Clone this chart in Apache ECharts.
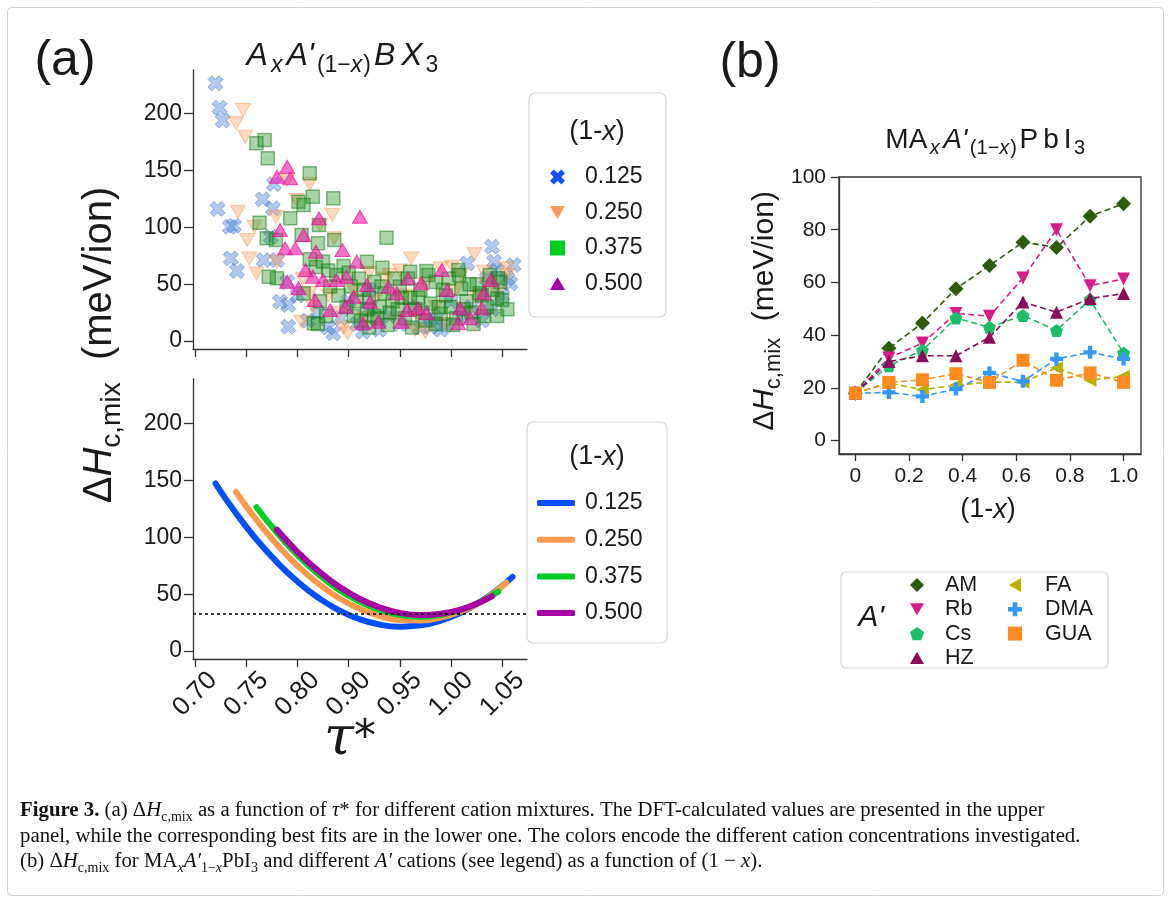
<!DOCTYPE html>
<html><head><meta charset="utf-8">
<script src="https://cdn.jsdelivr.net/npm/echarts@6/dist/echarts.min.js"></script>
<style>html,body{margin:0;padding:0;background:#fff}#c{width:1171px;height:903px}</style>
</head><body><div id="c"></div>
<script>
// ---------- DATA ----------
const tauTickValues = [0.70, 0.75, 0.80, 0.85, 0.90, 0.95, 1.00];
const tauTickLabels = ['0.70', '0.75', '0.80', '0.90', '0.95', '1.00', '1.05'];
const enthalpyTicks = [0, 50, 100, 150, 200];
const concentrations = ['0.125', '0.250', '0.375', '0.500'];

// upper panel: DFT values [tau*, dH]
const dft0125 = [[0.720,226.6],[0.724,205.2],[0.727,193.8],[0.722,116.1],[0.734,100.5],[0.738,101.4],[0.735,72.7],[0.741,61.6],
  [0.777,138.1],[0.766,124.6],[0.776,116.7],[0.774,91.7],[0.767,71.2],[0.780,71.2],[0.783,34.6],[0.791,31.7],[0.791,12.6],
  [0.835,6.8],[0.990,83.0],[0.992,69.8],[1.011,66.8],[1.008,50.7],[0.966,68.3],[0.930,12.6],[0.864,8.2],
  [0.800,40],[0.810,18],[0.820,25],[0.830,12],[0.842,20],[0.850,35],[0.858,15],[0.870,28],[0.880,10],[0.890,22],[0.900,15],
  [0.910,30],[0.920,12],[0.935,20],[0.945,14],[0.950,35],[0.960,22],[0.970,30],[0.980,18],[0.990,28],[1.000,40],[1.005,55],
  [0.995,62],[0.985,55],[0.940,10],[0.870,45],[0.790,52]];
const dft0250 = [[0.747,203.2],[0.740,191.5],[0.749,179.7],[0.742,113.7],[0.758,100.5],[0.751,88.8],[0.753,72.7],[0.760,59.5],
  [0.779,109.3],[0.790,141.6],[0.812,138.1],[0.834,110.8],[0.836,90.3],[0.780,69.8],[0.799,124.0],[0.822,102.0],[0.911,72.7],
  [0.951,65.3],[0.973,76.3],[0.982,61.0],[1.004,64.0],[0.849,6.8],[0.804,17.0],[0.812,42.0],[0.890,58.0],
  [0.805,55],[0.815,30],[0.830,40],[0.840,25],[0.855,45],[0.865,20],[0.875,35],[0.885,55],[0.895,18],[0.905,40],[0.915,25],
  [0.925,50],[0.935,30],[0.945,15],[0.955,45],[0.965,25],[0.975,38],[0.985,50],[0.995,42],[1.005,58],[0.960,58],[0.900,62],
  [0.940,64],[0.870,60],[0.845,12],[0.915,10],[0.925,8]];
const dft0375 = [[0.760,173.9],[0.768,176.8],[0.771,160.7],[0.812,147.5],[0.801,122.5],[0.806,119.6],[0.815,126.9],[0.835,125.5],
  [0.793,107.9],[0.763,104.1],[0.770,90.3],[0.779,88.8],[0.804,93.2],[0.821,102.0],[0.820,85.9],[0.836,88.8],[0.887,90.9],
  [0.772,56.6],[0.780,55.1],[0.868,69.8],[0.883,64.5],[0.910,61.0],[0.926,61.6],[0.957,62.4],[0.806,42.0],[0.816,15.6],
  [0.996,55.1],[0.995,37.5],
  [0.812,72],[0.818,65],[0.825,70],[0.830,62],[0.838,58],[0.845,66],[0.850,60],[0.852,48],[0.860,55],[0.865,45],[0.870,38],
  [0.875,52],[0.880,30],[0.885,42],[0.890,25],[0.893,35],[0.900,48],[0.905,20],[0.910,38],[0.915,28],[0.920,45],[0.925,18],
  [0.930,33],[0.935,52],[0.940,24],[0.945,40],[0.950,30],[0.955,20],[0.960,46],[0.965,35],[0.970,25],[0.975,50],[0.980,40],
  [0.985,30],[0.990,45],[0.995,22],[1.000,36],[1.005,28],[0.840,40],[0.848,30],[0.855,22],[0.862,18],[0.868,28],[0.878,20],
  [0.888,14],[0.898,28],[0.908,55],[0.918,38],[0.928,58],[0.938,30],[0.948,55],[0.958,58],[0.968,50],[0.978,42],[0.988,58],
  [0.998,52],[0.822,35],[0.832,48],[0.828,22],[0.820,15],[0.870,12],[0.912,12],[0.952,14],[0.972,15],
  [0.858,35],[0.882,48],[0.902,38],[0.922,25],[0.942,45],[0.962,28],[0.982,22],[0.895,55],[0.935,15],[0.875,22]];
const dft0500 = [[0.790,153.3],[0.780,144.5],[0.793,143.1],[0.861,109.3],[0.821,107.9],[0.783,97.6],[0.806,93.2],[0.788,81.5],
  [0.798,81.5],[0.818,78.5],[0.844,80.0],[0.858,69.8],[0.808,62.4],[0.815,56.6],[0.790,52.2],[0.801,46.4],[0.817,36.1],
  [0.832,27.3],[0.847,30.2],[0.864,15.6],[0.879,17.0],[0.902,17.0],[0.825,53.6],[0.838,53.6],[0.848,56.6],[0.868,49.3],
  [0.889,47.8],[0.908,55.1],[0.921,50.7],[0.941,62.4],[0.946,44.9],[0.959,28.8],[0.982,42.0],[0.989,53.6],[0.918,28.8],
  [0.926,24.4],[0.957,15.6],[0.969,20.0],[0.897,42.0],[0.855,39.0],[0.871,34.6],[0.907,27.3],[0.980,28.8]];

// lower panel: best fits [tau*, dH]
const fit0125 = [[0.720,147.3],[0.740,121.1],[0.760,98.1],[0.780,78.1],[0.800,61.1],[0.820,47.1],[0.840,36.1],[0.860,28.2],
  [0.880,23.3],[0.900,21.4],[0.920,22.6],[0.940,26.7],[0.960,33.9],[0.980,44.2],[1.000,57.4],[1.010,65.2]];
const fit0250 = [[0.740,139.8],[0.760,115.2],[0.780,93.6],[0.800,75.0],[0.820,59.5],[0.840,46.9],[0.860,37.4],[0.880,30.9],
  [0.900,27.3],[0.920,26.9],[0.940,29.4],[0.960,35.0],[0.980,43.5],[1.004,60.0]];
const fit0375 = [[0.760,126.4],[0.780,104.0],[0.800,84.4],[0.820,67.8],[0.840,54.2],[0.860,43.7],[0.880,36.2],[0.900,31.7],
  [0.920,30.2],[0.940,31.8],[0.960,36.3],[0.980,43.9],[0.996,52.2]];
const fit0500 = [[0.780,106.6],[0.800,87.3],[0.820,70.7],[0.840,57.0],[0.860,46.3],[0.880,38.5],[0.900,33.6],[0.920,31.7],
  [0.940,32.8],[0.960,36.7],[0.980,43.6],[0.990,48.2]];
const referenceLevel = 33.2;

// panel (b)
const fracX = [0, 0.125, 0.25, 0.375, 0.5, 0.625, 0.75, 0.875, 1.0];
const fracTickValues = [0, 0.2, 0.4, 0.6, 0.8, 1.0];
const fracTickLabels = ['0', '0.2', '0.4', '0.6', '0.8', '1.0'];
const bTicks = [0, 20, 40, 60, 80, 100];
const cations = ['AM', 'Rb', 'Cs', 'HZ', 'FA', 'DMA', 'GUA'];
const hAM  = [18, 35.1, 44.6, 57.6, 66.4, 75.3, 73.3, 85.1, 89.9];
const hRb  = [18, 31.4, 37.0, 48.2, 47.2, 61.7, 80.0, 58.8, 61.3];
const hCs  = [18, 28.4, 34.3, 46.5, 43.0, 47.5, 41.8, 53.5, 33.2];
const hHZ  = [18, 30.0, 32.2, 32.2, 39.2, 52.6, 48.7, 53.9, 55.8];
const hFA  = [18, 21.9, 19.3, 21.1, 22.2, 22.2, 27.6, 22.9, 24.4];
const hDMA = [18, 18.3, 16.8, 19.6, 25.7, 22.5, 31.0, 33.5, 31.0];
const hGUA = [18, 22.1, 23.1, 25.4, 22.1, 30.5, 22.9, 25.7, 22.1];

// ---------- STYLE ----------
const SANS = 'Liberation Sans, Arial, sans-serif';
const SERIF = 'Liberation Serif, Times New Roman, serif';
const INK = '#1a1a1a';
const AX = '#333333';
const P = {
  X: 'path://M-1,-0.5L-0.5,-1L0,-0.5L0.5,-1L1,-0.5L0.5,0L1,0.5L0.5,1L0,0.5L-0.5,1L-1,0.5L-0.5,0Z',
  down: 'path://M0,0L2,0L1,1.732Z',
  up: 'path://M1,0L2,1.732L0,1.732Z',
  left: 'path://M0,1L1.732,0L1.732,2Z',
  diamond: 'path://M1,0L2,1L1,2L0,1Z',
  pent: 'path://M0,-1L0.951,-0.309L0.588,0.809L-0.588,0.809L-0.951,-0.309Z',
  plus: 'path://M-0.33,-1L0.33,-1L0.33,-0.33L1,-0.33L1,0.33L0.33,0.33L0.33,1L-0.33,1L-0.33,0.33L-1,0.33L-1,-0.33L-0.33,-0.33Z'
};
const scatterStyles = [
  {sym: P.X, size: 15, color: 'rgba(60,120,210,0.5)', border: 'rgba(40,100,200,0.55)', bw: 1},
  {sym: P.down, size: [15, 13], color: 'rgba(255,150,80,0.45)', border: 'rgba(255,140,60,0.55)', bw: 1},
  {sym: 'rect', size: 13, color: 'rgba(20,135,20,0.45)', border: 'rgba(10,120,10,0.6)', bw: 1.5},
  {sym: P.up, size: [15, 13], color: 'rgba(245,20,165,0.75)', border: 'rgba(230,0,150,0.8)', bw: 1}
];
const topLegendColors = ['#1050ff', '#ff9955', '#00cc22', '#a000a8'];
const fitColors = ['#0050ff', '#ff9a4d', '#00cf25', '#a600a6'];
const cationColors = ['#2e5c0a', '#d81b87', '#1fbd66', '#8b0d59', '#bbae00', '#3399ff', '#ff8a1f'];
const cationSymbols = [P.diamond, P.down, P.pent, P.up, P.left, P.plus, 'rect'];
const cationSizes = [15, 13, 13, 13, 13, 13, 13];
const cationValues = [hAM, hRb, hCs, hHZ, hFA, hDMA, hGUA];

const tauFmt = v => tauTickLabels[Math.round((v - 0.70) / 0.05)];
const fracFmt = v => fracTickLabels[Math.round(v / 0.2)];

function axisCommon(extra) {
  return Object.assign({
    type: 'value', splitLine: {show: false},
    axisLine: {show: true, onZero: false, lineStyle: {color: AX, width: 1.3}}
  }, extra);
}

const dftSets = [dft0125, dft0250, dft0375, dft0500];
const fitSets = [fit0125, fit0250, fit0375, fit0500];

const series = [];
dftSets.forEach((d, i) => {
  const s = scatterStyles[i];
  series.push({
    name: concentrations[i], type: 'scatter', xAxisIndex: 0, yAxisIndex: 0, data: d,
    symbol: s.sym, symbolSize: s.size, z: 2 + i,
    itemStyle: {color: s.color, borderColor: s.border, borderWidth: s.bw},
    emphasis: {disabled: true}
  });
});
fitSets.forEach((d, i) => {
  const ser = {
    name: concentrations[i], type: 'line', xAxisIndex: 1, yAxisIndex: 1, data: d, smooth: 0.5,
    showSymbol: false, symbol: 'none', z: 3 + i,
    lineStyle: {color: fitColors[i], width: 6, cap: 'round', join: 'round'},
    itemStyle: {color: fitColors[i]}, emphasis: {disabled: true}
  };
  if (i === 0) {
    ser.markLine = {silent: true, symbol: 'none', z: 10, label: {show: false},
      lineStyle: {color: '#000', type: [3, 3], width: 1.5},
      data: [{yAxis: referenceLevel}]};
  }
  series.push(ser);
});
cations.forEach((c, i) => {
  series.push({
    name: c, type: 'line', xAxisIndex: 2, yAxisIndex: 2,
    data: fracX.map((x, k) => [x, cationValues[i][k]]),
    symbol: cationSymbols[i], symbolSize: cationSizes[i], showAllSymbol: true, z: 3 + i,
    lineStyle: {color: cationColors[i], width: 1.6, type: [6, 3.5]},
    itemStyle: {color: cationColors[i], borderWidth: 0}, emphasis: {disabled: true}
  });
});

function rs(size, extra) {
  return Object.assign({fontSize: size, fontFamily: SANS, fill: INK, lineHeight: Math.round(size * 1.3)}, extra || {});
}
function subs(size, extra) { return rs(size, Object.assign({lineHeight: size, verticalAlign: 'bottom'}, extra || {})); }

function txt(x, y, text, rich, opts) {
  return Object.assign({
    type: 'text', x: x, y: y, z: 20,
    style: {text: text, rich: rich, align: 'center', verticalAlign: 'middle', textAlign: 'center', textVerticalAlign: 'middle'}
  }, opts || {});
}

const labelRichBig = {n: rs(40), i: rs(40, {fontStyle: 'italic'}), s: subs(28)};
const labelRichB = {n: rs(30), i: rs(30, {fontStyle: 'italic'}), s: subs(22)};
const labelRichX = {n: rs(27), i: rs(27, {fontStyle: 'italic'})};
const titleRichA = {
  i: rs(32, {fontStyle: 'italic', padding: [0, 3, 0, 3]}),
  s: subs(23),
  si: subs(23, {fontStyle: 'italic', padding: [0, 1, 0, 0]})
};
const titleRichB = {
  n: rs(28, {padding: [0, 2.5, 0, 2.5]}),
  i: rs(28, {fontStyle: 'italic', padding: [0, 2.5, 0, 2.5]}),
  s: subs(20),
  si: subs(20, {fontStyle: 'italic', padding: [0, 1, 0, 0]})
};
const legTitleRich = {n: rs(27), i: rs(27, {fontStyle: 'italic'})};
const capN = {fontSize: 20.8, fontFamily: SERIF, fill: '#111', lineHeight: 26};
const capRich = {
  b: Object.assign({}, capN, {fontWeight: 'bold'}),
  n: capN,
  i: Object.assign({}, capN, {fontStyle: 'italic'}),
  s: {fontSize: 14, fontFamily: SERIF, fill: '#111', lineHeight: 14, verticalAlign: 'bottom'},
  si: {fontSize: 14, fontFamily: SERIF, fill: '#111', lineHeight: 14, verticalAlign: 'bottom', fontStyle: 'italic'}
};

function legendBase(extra) {
  return Object.assign({orient: 'vertical', selectedMode: false, padding: 0}, extra);
}
function tick(len, vals) { return {show: true, inside: false, length: len, customValues: vals, lineStyle: {color: AX, width: 1.3}}; }

const option = {
  backgroundColor: '#ffffff',
  animation: false,
  grid: [
    {left: 193, top: 70, width: 334, height: 279},
    {left: 193, top: 379, width: 334, height: 280},
    {left: 839, top: 177, width: 302, height: 277, show: true, borderColor: AX, borderWidth: 1.3, backgroundColor: 'transparent'}
  ],
  xAxis: [
    axisCommon({gridIndex: 0, min: 0.698, max: 1.0242, axisTick: tick(8, tauTickValues),
      axisLabel: {show: false, customValues: tauTickValues}}),
    axisCommon({gridIndex: 1, min: 0.698, max: 1.0242, axisTick: tick(8, tauTickValues),
      axisLabel: {show: true, customValues: tauTickValues, rotate: 45, align: 'center', verticalAlign: 'middle', margin: 35,
        fontSize: 26, fontFamily: SANS, color: INK, formatter: tauFmt}}),
    axisCommon({gridIndex: 2, min: -0.061, max: 1.065, axisTick: tick(7, fracTickValues),
      axisLabel: {show: true, customValues: fracTickValues, margin: 12, fontSize: 21, fontFamily: SANS, color: INK, formatter: fracFmt}})
  ],
  yAxis: [
    axisCommon({gridIndex: 0, min: -7, max: 238.3, axisTick: tick(9, enthalpyTicks),
      axisLabel: {show: true, customValues: enthalpyTicks, margin: 11, fontSize: 23, fontFamily: SANS, color: INK}}),
    axisCommon({gridIndex: 1, min: -7, max: 239.2, axisTick: tick(9, enthalpyTicks),
      axisLabel: {show: true, customValues: enthalpyTicks, margin: 11, fontSize: 23, fontFamily: SANS, color: INK}}),
    axisCommon({gridIndex: 2, min: -5.05, max: 100, axisTick: tick(8, bTicks),
      axisLabel: {show: true, customValues: bTicks, margin: 13, fontSize: 21, fontFamily: SANS, color: INK}})
  ],
  legend: [
    legendBase({left: 550, top: 165.5, itemGap: 12.5, itemWidth: 15, itemHeight: 15,
      textStyle: {fontSize: 23, fontFamily: SANS, color: INK, lineHeight: 23, padding: [0, 0, 0, 15]},
      data: concentrations.map((n, i) => ({name: n, icon: [P.X, P.down, 'rect', P.up][i],
        itemStyle: {color: topLegendColors[i], borderWidth: 0, opacity: 1}}))}),
    legendBase({left: 537, top: 491.5, itemGap: 13.7, itemWidth: 38, itemHeight: 6,
      textStyle: {fontSize: 23, fontFamily: SANS, color: INK, lineHeight: 23, padding: [0, 0, 0, 5]},
      data: concentrations.map((n, i) => ({name: n, icon: 'roundRect', itemStyle: {color: fitColors[i], borderWidth: 0, opacity: 1}}))}),
    legendBase({left: 910, top: 574, itemGap: 2.3, itemWidth: 14, itemHeight: 14,
      textStyle: {fontSize: 21.5, fontFamily: SANS, color: INK, lineHeight: 21, padding: [0, 0, 0, 16]},
      data: cations.slice(0, 4).map((n, i) => ({name: n, icon: cationSymbols[i], itemStyle: {color: cationColors[i], borderWidth: 0}}))}),
    legendBase({left: 1008, top: 574, itemGap: 2.3, itemWidth: 14, itemHeight: 14,
      textStyle: {fontSize: 21.5, fontFamily: SANS, color: INK, lineHeight: 21, padding: [0, 0, 0, 18]},
      data: cations.slice(4).map((n, i) => ({name: n, icon: cationSymbols[i + 4], itemStyle: {color: cationColors[i + 4], borderWidth: 0}}))})
  ],
  graphic: {elements: [
    {type: 'rect', z: -1, shape: {x: 7.5, y: 7.5, width: 1156, height: 888, r: 4}, style: {fill: 'none', stroke: '#d0d0d0', lineWidth: 1}},
    {type: 'rect', z: 0, shape: {x: 529, y: 93, width: 137, height: 224, r: 6}, style: {fill: '#fff', stroke: '#d6d6d6', lineWidth: 1.2}},
    {type: 'rect', z: 0, shape: {x: 527, y: 422, width: 140, height: 221, r: 6}, style: {fill: '#fff', stroke: '#d6d6d6', lineWidth: 1.2}},
    {type: 'rect', z: 0, shape: {x: 841, y: 572, width: 267, height: 96, r: 5}, style: {fill: '#fff', stroke: '#d6d6d6', lineWidth: 1.2}},
    txt(65, 61, '{n|(a)}', {n: rs(50)}),
    txt(750, 63, '{n|(b)}', {n: rs(50)}),
    txt(341, 56, '{i|A}{si|x}{i|A\'}{s|(1\u2212}{si|x}{s|)}{i|B}{i|X}{s|3}', titleRichA),
    txt(984, 140, '{n|MA}{si|x}{i|A\'}{s|(1\u2212}{si|x}{s|)}{n|P}{n|b}{n|I}{s|3}', titleRichB),
    txt(597, 132, '{n|(1-}{i|x}{n|)}', legTitleRich),
    txt(597, 457, '{n|(1-}{i|x}{n|)}', legTitleRich),
    txt(988, 510, '{n|(1-}{i|x}{n|)}', labelRichX),
    txt(350, 740, '{t|\u03c4}{a|*}', {t: {fontSize: 54, fontFamily: 'DejaVu Serif, serif', fontStyle: 'italic', fill: INK, lineHeight: 62},
      a: {fontSize: 44, fontFamily: 'DejaVu Sans, sans-serif', fill: INK, lineHeight: 62}}),
    txt(100, 345, '{n|\u0394}{i|H}{s|c,mix}{n|  (meV/ion)}', labelRichBig, {rotation: Math.PI / 2}),
    txt(765, 311, '{n|\u0394}{i|H}{s|c,mix}{n|  (meV/ion)}', labelRichB, {rotation: Math.PI / 2}),
    txt(871, 618, '{i|A\'}', {i: rs(30, {fontStyle: 'italic'})}),
    {type: 'text', x: 20, y: 811, z: 20, style: {rich: capRich, align: 'left', verticalAlign: 'middle', textAlign: 'left', textVerticalAlign: 'middle',
      text: '{b|Figure 3.}{n| (a) \u0394}{i|H}{s|c,mix}{n| as a function of }{i|\u03c4}{n|* for different cation mixtures. The DFT-calculated values are presented in the upper}'}},
    {type: 'text', x: 20, y: 837, z: 20, style: {rich: capRich, align: 'left', verticalAlign: 'middle', textAlign: 'left', textVerticalAlign: 'middle',
      text: '{n|panel, while the corresponding best fits are in the lower one. The colors encode the different cation concentrations investigated.}'}},
    {type: 'text', x: 20, y: 862, z: 20, style: {rich: capRich, align: 'left', verticalAlign: 'middle', textAlign: 'left', textVerticalAlign: 'middle',
      text: '{n|(b) \u0394}{i|H}{s|c,mix}{n| for MA}{si|x}{i|A\u2032}{s|1\u2212}{si|x}{n|PbI}{s|3}{n| and different }{i|A\u2032}{n| cations (see legend) as a function of (1 \u2212 }{i|x}{n|).}'}}
  ]},
  series: series
};

const chart = echarts.init(document.getElementById('c'), null, {renderer: 'canvas', width: 1171, height: 903});
chart.setOption(option);
</script>
</body></html>
